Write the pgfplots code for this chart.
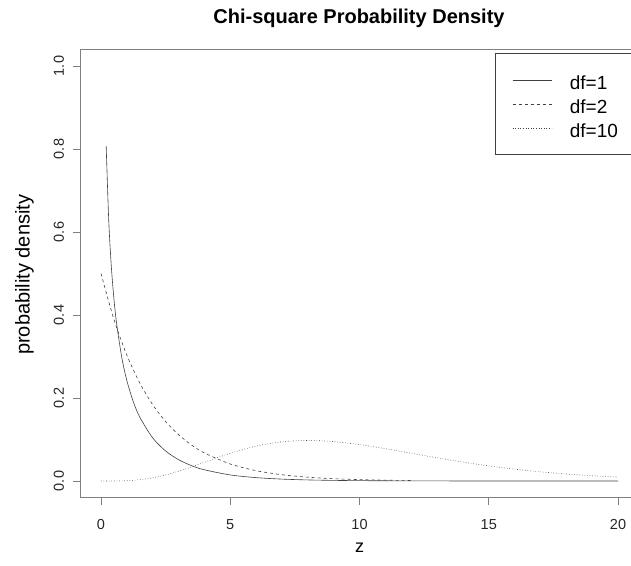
\documentclass[border=0pt]{standalone}
\usepackage{fontspec}
\setmainfont{Liberation Sans}
\usepackage{pgfplots}
\pgfplotsset{compat=1.18}
\begin{document}
\begin{tikzpicture}
\clip (-101pt,-84pt) rectangle (530pt,481pt);
\begin{axis}[
  anchor=origin, at={(0pt,0pt)},
  scale only axis, width=558.4pt, height=448.2pt,
  xmin=-0.8, xmax=20.8, ymin=-0.04, ymax=1.04,
  xtick={0,5,10,15,20}, ytick={0,0.2,0.4,0.6,0.8,1.0},
  yticklabels={0.0,0.2,0.4,0.6,0.8,1.0},
  /pgf/number format/assume math mode=true,
  tick align=outside, major tick length=7pt, tick pos=left,
  axis line style={black!50, line width=0.8pt},
  tick style={black!50, line width=0.8pt},
  ticklabel style={font=\fontsize{14.5}{16}\selectfont, text=black!85},
  yticklabel style={rotate=90, anchor=south, inner sep=9pt},
  xticklabel style={anchor=north, inner sep=15pt},
  xlabel={z},
  ylabel={probability density},
  xlabel style={font=\fontsize{18}{20}\selectfont, at={(axis description cs:0.5,-0.112)}, anchor=center},
  ylabel style={font=\fontsize{20}{22}\selectfont, at={(axis description cs:-0.1,0.497)}, anchor=center, rotate=0},
  legend style={at={(axis cs:15.24,1.031)}, anchor=north west, draw=black!75, line width=0.6pt,
    font=\fontsize{19}{21}\selectfont, row sep=5pt, inner xsep=17pt, inner ysep=17pt,
    nodes={text width=75pt, inner sep=0pt, text height=19pt, text depth=0pt}},
  legend cell align=left,
  legend image code/.code={\draw[#1] (0pt,0pt) -- (39pt,0pt); \path (57pt,0pt);},
]
\addplot[black!75, line width=0.6pt, smooth] coordinates {
(0.2,0.8071)(0.3,0.6269)(0.4,0.5164)(0.5,0.4394)(0.6,0.3815)(0.8,0.2990)(1.0,0.2420)
(1.25,0.1910)(1.5,0.1539)(2,0.1038)(2.5,0.0723)(3,0.0514)(3.5,0.0371)(4,0.0270)
(5,0.01464)(6,0.00811)(7,0.00455)(8,0.00258)(9,0.00148)(10,0.00085)(12,0.000285)
(14,0.0000972)(16,0.00003)(18,0.00001)(20,0.0000)};
\addlegendentry{df=1}
\addplot[black!75, line width=0.6pt, dashed, smooth] coordinates {
(0,0.5)(0.5,0.3894)(1,0.3033)(1.5,0.2362)(2,0.1839)(2.5,0.1433)(3,0.1116)(3.5,0.0869)
(4,0.0677)(5,0.0410)(6,0.0249)(7,0.0151)(8,0.00916)(9,0.00556)(10,0.00337)(11,0.00204)(12,0.00124)};
\addlegendentry{df=2}
\addplot[black!75, line width=0.6pt, dotted, smooth] coordinates {
(0,0)(0.5,0.00006)(1,0.00079)(1.5,0.00311)(2,0.00766)(2.5,0.01457)(3,0.02353)(3.5,0.03396)
(4,0.04511)(5,0.06680)(6,0.08402)(7,0.09441)(8,0.09769)(9,0.09490)(10,0.08773)
(11,0.07791)(12,0.06693)(13,0.05591)(14,0.04561)(15,0.03646)(16,0.02863)(17,0.02213)
(18,0.01687)(19,0.01270)(20,0.00946)};
\addlegendentry{df=10}
\end{axis}
\node[font=\bfseries\fontsize{20}{22}\selectfont, anchor=base] at (258pt,457.7pt) {Chi-square Probability Density};
\end{tikzpicture}
\end{document}
